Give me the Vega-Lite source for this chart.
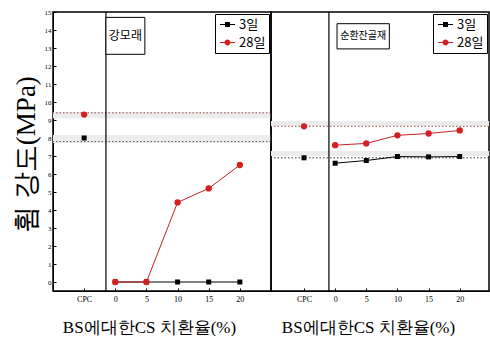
{
  "$schema": "https://vega.github.io/schema/vega-lite/v6.json",
  "padding": {"left": 11, "top": 7, "right": 0, "bottom": 0},
  "spacing": 0,
  "bounds": "flush",
  "config": {
    "view": {"stroke": "black", "strokeWidth": 1.5},
    "axis": {"grid": false, "domainColor": "black", "tickColor": "black", "labelColor": "black", "titleColor": "black", "labelFont": "Liberation Serif", "titleFont": "Liberation Serif", "titleFontWeight": "normal", "labelOverlap": false},
    "legend": {"strokeColor": "black", "fillColor": "white", "padding": 3, "labelFontSize": 13, "labelFont": "Noto Sans CJK KR", "labelOffset": 4, "rowPadding": 3, "symbolSize": 225, "symbolOffset": 2, "symbolStrokeWidth": 0, "title": null}
  },
  "datasets": {
    "pts": [
      {"panel": "L", "series": "3일", "x": -5, "y": 8.0, "cpc": true},
      {"panel": "L", "series": "3일", "x": 0, "y": 0, "cpc": false},
      {"panel": "L", "series": "3일", "x": 5, "y": 0, "cpc": false},
      {"panel": "L", "series": "3일", "x": 10, "y": 0, "cpc": false},
      {"panel": "L", "series": "3일", "x": 15, "y": 0, "cpc": false},
      {"panel": "L", "series": "3일", "x": 20, "y": 0, "cpc": false},
      {"panel": "L", "series": "28일", "x": -5, "y": 9.3, "cpc": true},
      {"panel": "L", "series": "28일", "x": 0, "y": 0, "cpc": false},
      {"panel": "L", "series": "28일", "x": 5, "y": 0, "cpc": false},
      {"panel": "L", "series": "28일", "x": 10, "y": 4.42, "cpc": false},
      {"panel": "L", "series": "28일", "x": 15, "y": 5.2, "cpc": false},
      {"panel": "L", "series": "28일", "x": 20, "y": 6.5, "cpc": false},
      {"panel": "R", "series": "3일", "x": -5, "y": 6.9, "cpc": true},
      {"panel": "R", "series": "3일", "x": 0, "y": 6.6, "cpc": false},
      {"panel": "R", "series": "3일", "x": 5, "y": 6.75, "cpc": false},
      {"panel": "R", "series": "3일", "x": 10, "y": 6.97, "cpc": false},
      {"panel": "R", "series": "3일", "x": 15, "y": 6.95, "cpc": false},
      {"panel": "R", "series": "3일", "x": 20, "y": 6.97, "cpc": false},
      {"panel": "R", "series": "28일", "x": -5, "y": 8.65, "cpc": true},
      {"panel": "R", "series": "28일", "x": 0, "y": 7.6, "cpc": false},
      {"panel": "R", "series": "28일", "x": 5, "y": 7.7, "cpc": false},
      {"panel": "R", "series": "28일", "x": 10, "y": 8.15, "cpc": false},
      {"panel": "R", "series": "28일", "x": 15, "y": 8.25, "cpc": false},
      {"panel": "R", "series": "28일", "x": 20, "y": 8.42, "cpc": false}
    ],
    "bands": [
      {"panel": "L", "y1": 9.1, "y2": 9.45},
      {"panel": "L", "y1": 7.72, "y2": 8.17},
      {"panel": "R", "y1": 8.67, "y2": 8.94},
      {"panel": "R", "y1": 7.0, "y2": 7.28}
    ],
    "refs": [
      {"panel": "L", "y": 9.4, "kind": "r"},
      {"panel": "L", "y": 7.8, "kind": "k"},
      {"panel": "R", "y": 8.65, "kind": "r"},
      {"panel": "R", "y": 6.9, "kind": "k"}
    ],
    "dividers": [
      {"panel": "L", "x": -1.5},
      {"panel": "R", "x": -1.0}
    ],
    "labels": [
      {"panel": "L", "text": "강모래"},
      {"panel": "R", "text": "순환잔골재"}
    ]
  },
  "resolve": {"scale": {"x": "independent", "y": "independent", "color": "independent", "shape": "independent"}, "legend": {"color": "independent", "shape": "independent"}},
  "hconcat": [
    {
      "width": 218,
      "height": 279,
      "encoding": {
        "y": {"type": "quantitative", "scale": {"domain": [-0.5, 15], "nice": false, "zero": false}, "axis": {"values": [0,1,2,3,4,5,6,7,8,9,10,11,12,13,14,15], "labelOverlap": false, "tickSize": -3, "labelFontSize": 7, "labelPadding": 5, "title": "휨  강도(MPa)", "titleFontSize": 27, "titleAngle": -90, "titleAlign": "center", "titleBaseline": "middle", "titleX": -27, "titleY": 142}},
        "x": {"type": "quantitative", "scale": {"domain": [-10, 25], "nice": false, "zero": false}, "axis": {"values": [-5, 0, 5, 10, 15, 20], "labelExpr": "datum.value === -5 ? 'CPC' : datum.label", "tickSize": -3, "labelFontSize": 8, "labelPadding": 7, "title": "BS에대한CS 치환율(%)", "titleFontSize": 17, "titleX": 96, "titleY": 36, "titleBaseline": "middle"}}
      },
      "layer": [
        {
          "data": {"name": "bands"},
          "transform": [{"filter": "datum.panel === 'L'"}],
          "mark": {"type": "rect", "color": "#ececec"},
          "encoding": {"y": {"field": "y1"}, "y2": {"field": "y2"}}
        },
        {
          "data": {"name": "refs"},
          "transform": [{"filter": "datum.panel === 'L' && datum.kind === 'r'"}],
          "mark": {"type": "rule", "strokeDash": [1.5, 2], "strokeWidth": 1, "color": "#a04848"},
          "encoding": {"y": {"field": "y"}}
        },
        {
          "data": {"name": "refs"},
          "transform": [{"filter": "datum.panel === 'L' && datum.kind === 'k'"}],
          "mark": {"type": "rule", "strokeDash": [1.5, 2], "strokeWidth": 1, "color": "#555555"},
          "encoding": {"y": {"field": "y"}}
        },
        {
          "data": {"name": "dividers"},
          "transform": [{"filter": "datum.panel === 'L'"}],
          "mark": {"type": "rule", "color": "black", "strokeWidth": 1.2},
          "encoding": {"x": {"field": "x"}}
        },
        {
          "data": {"name": "labels"},
          "transform": [{"filter": "datum.panel === 'L'"}],
          "mark": {"type": "rect", "fill": "white", "stroke": "black", "strokeWidth": 1},
          "encoding": {
            "x": {"datum": -1.5},
            "x2": {"datum": 4.75},
            "y": {"datum": 12.65},
            "y2": {"datum": 14.7}
          }
        },
        {
          "data": {"name": "labels"},
          "transform": [{"filter": "datum.panel === 'L'"}],
          "mark": {"type": "text", "font": "Noto Sans CJK KR", "fontSize": 12, "color": "black"},
          "encoding": {
            "x": {"datum": 1.62},
            "y": {"datum": 13.67},
            "text": {"field": "text"}
          }
        },
        {
          "data": {"name": "pts"},
          "transform": [{"filter": "datum.panel === 'L' && !datum.cpc && datum.series === '3일'"}],
          "mark": {"type": "line", "strokeWidth": 1, "color": "black"},
          "encoding": {"x": {"field": "x"}, "y": {"field": "y"}}
        },
        {
          "data": {"name": "pts"},
          "transform": [{"filter": "datum.panel === 'L' && datum.series === '3일'"}],
          "mark": {"type": "point", "filled": true, "opacity": 1, "shape": "square", "size": 25, "color": "black"},
          "encoding": {"x": {"field": "x"}, "y": {"field": "y"}}
        },
        {
          "data": {"name": "pts"},
          "transform": [{"filter": "datum.panel === 'L' && !datum.cpc && datum.series === '28일'"}],
          "mark": {"type": "line", "strokeWidth": 1, "color": "#c42222"},
          "encoding": {"x": {"field": "x"}, "y": {"field": "y"}}
        },
        {
          "data": {"name": "pts"},
          "transform": [{"filter": "datum.panel === 'L' && datum.series === '28일'"}],
          "mark": {"type": "point", "filled": true, "opacity": 1, "shape": "circle", "size": 40, "color": "#d42020"},
          "encoding": {"x": {"field": "x"}, "y": {"field": "y"}}
        },
        {
          "data": {"name": "pts"},
          "transform": [{"filter": "false"}],
          "mark": {"type": "point", "filled": true, "opacity": 1},
          "encoding": {
            "x": {"field": "x"},
            "y": {"field": "y"},
            "color": {"field": "series", "type": "nominal", "scale": {"domain": ["3일", "28일"], "range": ["black", "#d42020"]}, "legend": {"orient": "top-right", "offset": 2}},
            "shape": {"field": "series", "type": "nominal", "scale": {"domain": ["3일", "28일"], "range": ["M-1,-0.07H1V0.07H-1Z M-0.33,-0.33H0.33V0.33H-0.33Z", "M-1,-0.07H-0.4V0.07H-1Z M0.4,-0.07H1V0.07H0.4Z M-0.4,0A0.4,0.4,0,1,0,0.4,0A0.4,0.4,0,1,0,-0.4,0Z"]}, "legend": {"orient": "top-right", "offset": 2}}
          }
        }
      ]
    },
    {
      "width": 218,
      "height": 279,
      "encoding": {
        "y": {"type": "quantitative", "scale": {"domain": [-0.5, 15], "nice": false, "zero": false}, "axis": null},
        "x": {"type": "quantitative", "scale": {"domain": [-10.3, 24.7], "nice": false, "zero": false}, "axis": {"values": [-5, 0, 5, 10, 15, 20], "labelExpr": "datum.value === -5 ? 'CPC' : datum.label", "tickSize": -3, "labelFontSize": 8, "labelPadding": 7, "title": "BS에대한CS 치환율(%)", "titleFontSize": 17, "titleX": 97, "titleY": 36, "titleBaseline": "middle"}}
      },
      "layer": [
        {
          "data": {"name": "bands"},
          "transform": [{"filter": "datum.panel === 'R'"}],
          "mark": {"type": "rect", "color": "#ececec"},
          "encoding": {"y": {"field": "y1"}, "y2": {"field": "y2"}}
        },
        {
          "data": {"name": "refs"},
          "transform": [{"filter": "datum.panel === 'R' && datum.kind === 'r'"}],
          "mark": {"type": "rule", "strokeDash": [1.5, 2], "strokeWidth": 1, "color": "#a04848"},
          "encoding": {"y": {"field": "y"}}
        },
        {
          "data": {"name": "refs"},
          "transform": [{"filter": "datum.panel === 'R' && datum.kind === 'k'"}],
          "mark": {"type": "rule", "strokeDash": [1.5, 2], "strokeWidth": 1, "color": "#333333"},
          "encoding": {"y": {"field": "y"}}
        },
        {
          "data": {"name": "dividers"},
          "transform": [{"filter": "datum.panel === 'R'"}],
          "mark": {"type": "rule", "color": "black", "strokeWidth": 1.2},
          "encoding": {"x": {"field": "x"}}
        },
        {
          "data": {"name": "labels"},
          "transform": [{"filter": "datum.panel === 'R'"}],
          "mark": {"type": "rect", "fill": "white", "stroke": "black", "strokeWidth": 1},
          "encoding": {
            "x": {"datum": 0.3},
            "x2": {"datum": 8.7},
            "y": {"datum": 12.95},
            "y2": {"datum": 14.35}
          }
        },
        {
          "data": {"name": "labels"},
          "transform": [{"filter": "datum.panel === 'R'"}],
          "mark": {"type": "text", "font": "Noto Sans CJK KR", "fontSize": 10, "color": "black"},
          "encoding": {
            "x": {"datum": 4.5},
            "y": {"datum": 13.65},
            "text": {"field": "text"}
          }
        },
        {
          "data": {"name": "pts"},
          "transform": [{"filter": "datum.panel === 'R' && !datum.cpc && datum.series === '3일'"}],
          "mark": {"type": "line", "strokeWidth": 1, "color": "black"},
          "encoding": {"x": {"field": "x"}, "y": {"field": "y"}}
        },
        {
          "data": {"name": "pts"},
          "transform": [{"filter": "datum.panel === 'R' && datum.series === '3일'"}],
          "mark": {"type": "point", "filled": true, "opacity": 1, "shape": "square", "size": 25, "color": "black"},
          "encoding": {"x": {"field": "x"}, "y": {"field": "y"}}
        },
        {
          "data": {"name": "pts"},
          "transform": [{"filter": "datum.panel === 'R' && !datum.cpc && datum.series === '28일'"}],
          "mark": {"type": "line", "strokeWidth": 1, "color": "#c42222"},
          "encoding": {"x": {"field": "x"}, "y": {"field": "y"}}
        },
        {
          "data": {"name": "pts"},
          "transform": [{"filter": "datum.panel === 'R' && datum.series === '28일'"}],
          "mark": {"type": "point", "filled": true, "opacity": 1, "shape": "circle", "size": 40, "color": "#d42020"},
          "encoding": {"x": {"field": "x"}, "y": {"field": "y"}}
        },
        {
          "data": {"name": "pts"},
          "transform": [{"filter": "false"}],
          "mark": {"type": "point", "filled": true, "opacity": 1},
          "encoding": {
            "x": {"field": "x"},
            "y": {"field": "y"},
            "color": {"field": "series", "type": "nominal", "scale": {"domain": ["3일", "28일"], "range": ["black", "#d42020"]}, "legend": {"orient": "top-right", "offset": 2}},
            "shape": {"field": "series", "type": "nominal", "scale": {"domain": ["3일", "28일"], "range": ["M-1,-0.07H1V0.07H-1Z M-0.33,-0.33H0.33V0.33H-0.33Z", "M-1,-0.07H-0.4V0.07H-1Z M0.4,-0.07H1V0.07H0.4Z M-0.4,0A0.4,0.4,0,1,0,0.4,0A0.4,0.4,0,1,0,-0.4,0Z"]}, "legend": {"orient": "top-right", "offset": 2}}
          }
        }
      ]
    }
  ]
}
